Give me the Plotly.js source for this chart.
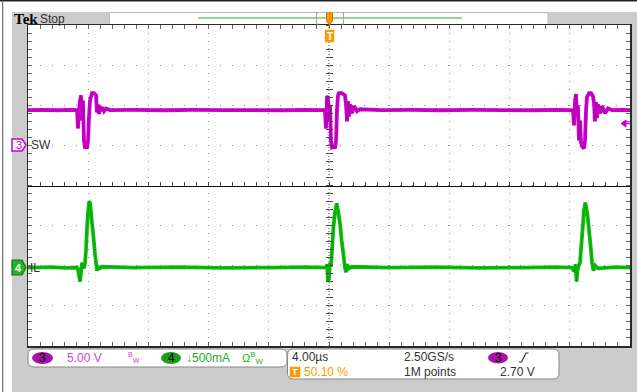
<!DOCTYPE html>
<html><head><meta charset="utf-8">
<script src="https://cdn.plot.ly/plotly-3.0.1.min.js"></script>
<style>html,body{margin:0;padding:0;background:#cccccc;overflow:hidden}#chart{width:637px;height:392px}</style>
</head><body><div id="chart"></div>
<script>
// ---- Data read from the scope capture (time in µs) ----
// Channel 3 : SW node voltage (V)
const swTime = [-20,-19,-18,-17.2,-16.74,-16.68,-16.61,-16.54,-16.48,-16.41,-16.35,-16.28,-16.21,-16.15,-16.08,-16.01,-15.95,-15.88,-15.81,-15.75,-15.61,-15.48,-15.42,-15.35,-15.28,-15.22,-15.15,-15.08,-14.95,-14.82,-14.55,
  -13,-11,-9,-7,-5,-3,-1.5,-0.27,-0.20,-0.13,-0.07,0,0.07,0.13,0.20,0.33,0.40,0.47,0.53,0.60,0.66,0.86,1.06,1.13,1.20,1.26,1.33,1.40,1.53,1.66,1.86,2.06,
  3.5,5.5,7.5,9.5,11.5,13.5,15,16.21,16.28,16.35,16.41,16.48,16.54,16.61,16.68,16.74,16.81,16.94,17.01,17.08,17.14,17.28,17.41,17.54,17.61,17.67,17.74,17.81,17.87,18.01,18.14,18.34,18.54,18.80,19.5,20];
const swVolts = [4.4,4.42,4.38,4.42,4.4,2.1,4.4,5.6,6.25,3.1,5.6,0.6,-0.4,-0.1,-0.4,0.6,3.4,5.6,6.1,6.5,6.5,6.25,4.1,5.1,3.9,4.9,4.25,4.75,4.25,4.6,4.4,
  4.42,4.38,4.42,4.4,4.4,4.38,4.42,4.4,2.1,6.0,6.1,3.1,5.0,0.6,-0.25,-0.1,-0.4,0.6,4.4,6.25,6.5,6.5,6.25,5.1,3.0,5.5,3.6,5.1,4.0,4.9,4.25,4.5,
  4.4,4.42,4.38,4.42,4.4,4.38,4.42,4.4,2.5,5.6,6.4,3.75,5.0,0.6,3.1,0.4,-0.1,-0.4,0.6,4.4,6.0,6.5,6.5,6.1,5.25,3.0,5.4,3.4,5.1,4.0,4.9,4.0,4.6,4.4,4.42,4.4];
// Channel 4 : inductor current IL (A)
const ilTime = [-20,-18.5,-17.5,-16.74,-16.68,-16.54,-16.41,-16.28,-16.21,-16.15,-16.08,-16.01,-15.93,-15.88,-15.81,-15.75,-15.68,-15.61,-15.55,-15.48,-15.42,-15.35,-15.22,-15.08,
  -13,-10,-7,-4,-1.5,-0.20,-0.13,-0.07,0,0.07,0.13,0.20,0.29,0.40,0.51,0.62,0.73,0.84,0.95,1.06,1.13,1.20,1.33,1.53,
  4,7,10,13,15,16.15,16.28,16.38,16.45,16.51,16.58,16.68,16.79,16.86,16.94,17.03,17.16,17.28,17.39,17.48,17.57,17.68,17.87,19,20];
const ilAmps = [0,0.005,-0.005,0,-0.02,-0.175,0.06,-0.01,0.06,0.21,0.49,0.69,0.83,0.80,0.69,0.56,0.44,0.30,0.175,0.06,-0.04,0.01,-0.01,0.01,
  0,0.005,-0.005,0,0.005,0,0.04,-0.175,-0.14,0.06,0.01,0.21,0.49,0.69,0.80,0.69,0.55,0.34,0.175,0,-0.06,0.04,-0.01,0.01,
  0,0.005,-0.005,0,0.005,0,-0.05,0.04,-0.175,-0.04,0.025,0.06,0.34,0.50,0.71,0.81,0.675,0.46,0.25,0.06,-0.04,0.025,-0.01,0.005,0];
// Scope settings (from the readout)
const ch3VoltsPerDiv = 5.0, ch4AmpsPerDiv = 0.5, usPerDiv = 4.0;
const ch3Position = 1.0, ch4Position = -2.045; // divisions
const triggerLevel = 2.70;

const swDiv = swVolts.map(v => v / ch3VoltsPerDiv + ch3Position);
const ilDiv = ilAmps.map(a => a / ch4AmpsPerDiv + ch4Position);

// pixel -> paper helpers for screen chrome
const L = 28, R = 630, T = 25, B = 346;
const X = x => (x - L) / (R - L);
const Y = y => (B - y) / (B - T);
function rect(x0, y0, x1, y1, fill, lc, lw, layer) {
  return {type:'rect', xref:'paper', yref:'paper', x0:X(x0), x1:X(x1), y0:Y(y1), y1:Y(y0),
    fillcolor:fill, line:{color:lc||fill, width:lw||0}, layer:layer||'below'};
}
function path(pts, fill, lc, lw, close) {
  let d = pts.map((p, i) => (i ? 'L' : 'M') + X(p[0]) + ',' + Y(p[1])).join(' ') + (close === false ? '' : ' Z');
  return {type:'path', xref:'paper', yref:'paper', path:d, fillcolor:fill||'rgba(0,0,0,0)', line:{color:lc||fill, width:lw===undefined?1:lw}, layer:'above'};
}
function roundBox(x0, y0, x1, y1, r) {
  const d = `M${X(x0+r)},${Y(y0)} L${X(x1-r)},${Y(y0)} Q${X(x1)},${Y(y0)} ${X(x1)},${Y(y0+r)} L${X(x1)},${Y(y1-r)} Q${X(x1)},${Y(y1)} ${X(x1-r)},${Y(y1)} L${X(x0+r)},${Y(y1)} Q${X(x0)},${Y(y1)} ${X(x0)},${Y(y1-r)} L${X(x0)},${Y(y0+r)} Q${X(x0)},${Y(y0)} ${X(x0+r)},${Y(y0)} Z`;
  return {type:'path', xref:'paper', yref:'paper', path:d, fillcolor:'#ffffff', line:{color:'#888888', width:1}, layer:'above'};
}
function pill(x0, y0, x1, y1, fill) {
  return {type:'circle', xref:'paper', yref:'paper', x0:X(x0), x1:X(x1), y0:Y(y1), y1:Y(y0), fillcolor:fill, line:{width:0}, layer:'above'};
}
const FONT = 'Liberation Sans, Arial, sans-serif';
function txt(x, y, s, color, size, anchor, extra) {
  return Object.assign({xref:'paper', yref:'paper', x:X(x), y:Y(y), text:s, showarrow:false,
    xanchor:anchor||'left', yanchor:'middle', borderpad:0,
    font:{family:FONT, size:size||12, color:color||'#333333'}}, extra||{});
}

const MAG = '#cc00cc', GRN = '#10c010';
const traces = [
  {x: swTime, y: swDiv, type:'scatter', mode:'lines', line:{color:MAG, width:3.8, simplify:false}, hoverinfo:'skip'},
  {x: swTime, y: swDiv, type:'scatter', mode:'lines', line:{color:'#9a009a', width:0.8, simplify:false}, opacity:0.55, hoverinfo:'skip'},
  {x: ilTime, y: ilDiv, type:'scatter', mode:'lines', line:{color:GRN, width:3.8, simplify:false}, hoverinfo:'skip'},
  {x: ilTime, y: ilDiv, type:'scatter', mode:'lines', line:{color:'#007a00', width:0.8, simplify:false}, opacity:0.55, hoverinfo:'skip'}
];

const shapes = [
  // screen chrome
  rect(0, 0, 12, 392, '#ffffff'),
  rect(0, 0, 637, 12, '#ffffff'),
  rect(0, 0, 637, 1.6, '#222222'),
  rect(2, 1.6, 3.3, 392, '#777777'),
  rect(109.5, 12.5, 548, 24.5, '#ffffff', '#b8b8b8', 1),
  path([[198,18],[462,18]], null, '#8fd88f', 2.2, false),
  path([[318.5,13],[316.5,13],[316.5,24],[318.5,24]], null, '#a8a8a8', 1, false),
  path([[341.5,13],[343.5,13],[343.5,24],[341.5,24]], null, '#a8a8a8', 1, false),
  path([[326.5,13],[332.5,13],[332.5,21],[329.5,25],[326.5,21]], '#ff9900', '#d07800', 1),
  // trigger position box
  path([[325,30],[334,30],[334,42],[325,42]], '#ff9900', '#ff9900', 0.5),
  // channel ground markers
  path([[12,139],[22,139],[26,145],[22,151],[12,151]], '#ffffff', MAG, 1.5),
  path([[12,260],[22,260],[26,267.5],[22,275],[12,275]], '#22b522', '#117711', 1.2),
  // trigger level marker (right edge)
  path([[621,123.5],[626,120],[626,127]], MAG, MAG, 1),
  path([[626,123.5],[630,123.5]], null, MAG, 1.5, false),
  // center dotted vertical graticule line
  {type:'line', xref:'x', yref:'y', x0:0, x1:0, y0:-4, y1:4, line:{color:'#444444', width:1, dash:'1px,2px'}, layer:'between'},
  // readout boxes
  roundBox(28, 349, 287, 367, 6),
  roundBox(287.5, 349, 559, 379, 6),
  pill(32, 352, 53, 364, '#a810a6'),
  pill(161, 352, 181, 364, '#1a9e1a'),
  pill(488, 352, 508, 363.5, '#a810a6'),
  path([[290,367],[300,367],[300,377],[290,377]], '#ff9900', '#ff9900', 0.5),
  path([[519,362],[521.5,362],[526,353],[528.5,353]], null, '#333333', 1.2, false)
];

const annotations = [
  txt(12.5, 18.8, '<b>Tek</b>', '#000000', 14, 'left', {font:{family:'Liberation Serif, serif', size:15, color:'#000'}}),
  txt(38.5, 19, 'Stop', '#333333', 12),
  txt(329.5, 36.2, '<b>T</b>', '#ffffff', 10, 'center'),
  txt(18.5, 145.3, '3', MAG, 11, 'center'),
  txt(18.5, 267.8, '<b>4</b>', '#ffffff', 11, 'center'),
  txt(30, 145, 'SW', '#333333', 12),
  txt(29, 267.5, 'IL', '#333333', 12),
  txt(42.5, 358.3, '3', '#000000', 12, 'center'),
  txt(65.5, 358, '5.00 V', '#cc44cc', 12),
  txt(127, 357.5, '<sup>B</sup><sub>W</sub>', '#cc44cc', 10),
  txt(171, 358.3, '4', '#000000', 12, 'center'),
  txt(185, 358, '↓500mA', '#22aa22', 12),
  txt(241, 358, 'Ω<sup>B</sup><sub>W</sub>', '#22aa22', 11),
  txt(291, 357, '4.00µs', '#333333', 12),
  txt(295, 372.3, '<b>T</b>', '#ffffff', 9, 'center'),
  txt(303, 372, '50.10 %', '#ff9900', 12),
  txt(403, 357, '2.50GS/s', '#333333', 12),
  txt(403, 372, '1M points', '#333333', 12),
  txt(498, 357.8, '3', '#000000', 12, 'center'),
  txt(499, 372, '2.70 V', '#333333', 12)
];

const tickC = '#666666';
const layout = {
  width: 637, height: 392,
  margin: {l: L, r: 637 - R, t: T, b: 392 - B, pad: 0},
  paper_bgcolor: '#cccccc', plot_bgcolor: '#ffffff',
  showlegend: false,
  xaxis: {range: [-5 * usPerDiv, 5 * usPerDiv], dtick: usPerDiv, tick0: 0, showgrid: true, gridcolor: '#8a8a8a', gridwidth: 1, griddash: '1px,7px',
    ticks: 'inside', ticklen: 4, tickcolor: tickC, tickwidth: 1,
    minor: {dtick: usPerDiv / 5, tick0: 0, ticks: 'inside', ticklen: 4, tickcolor: tickC, tickwidth: 1, showgrid: false},
    showline: true, linecolor: '#2a2a2a', linewidth: 1.5, mirror: 'ticks', zeroline: false, showticklabels: false, fixedrange: true},
  yaxis: {range: [-4, 4], dtick: 1, tick0: 0, showgrid: true, gridcolor: '#8a8a8a', gridwidth: 1, griddash: '1px,11px',
    ticks: 'inside', ticklen: 4, tickcolor: tickC, tickwidth: 1,
    minor: {dtick: 0.2, tick0: 0, ticks: 'inside', ticklen: 4, tickcolor: tickC, tickwidth: 1, showgrid: false},
    showline: true, linecolor: '#2a2a2a', linewidth: 1.5, mirror: 'ticks', zeroline: false, showticklabels: false, fixedrange: true},
  xaxis2: {overlaying: 'x', anchor: 'free', position: 0.5, side: 'bottom', range: [-5 * usPerDiv, 5 * usPerDiv],
    showline: true, linecolor: '#111111', linewidth: 1.5, ticks: 'inside', dtick: usPerDiv / 5, tick0: 0, ticklen: 4, tickcolor: '#444',
    showgrid: false, zeroline: false, showticklabels: false, layer: 'below traces', fixedrange: true},
  yaxis2: {overlaying: 'y', anchor: 'free', position: 0.5, side: 'left', range: [-4, 4], showline: false,
    ticks: 'outside', dtick: 0.2, tick0: 0, ticklen: 3, tickcolor: '#444', showgrid: false, zeroline: false, showticklabels: false, fixedrange: true},
  yaxis3: {overlaying: 'y', anchor: 'free', position: 0.5, side: 'left', range: [-4, 4], showline: false,
    ticks: 'inside', dtick: 0.2, tick0: 0, ticklen: 3, tickcolor: '#444', showgrid: false, zeroline: false, showticklabels: false, fixedrange: true},
  shapes: shapes,
  annotations: annotations
};
// invisible anchor traces so the overlay graticule axes are drawn
traces.unshift({x: [0], y: [0], xaxis: 'x2', yaxis: 'y', mode: 'markers', marker: {opacity: 0}, hoverinfo: 'skip'});
traces.unshift({x: [0], y: [0], xaxis: 'x', yaxis: 'y2', mode: 'markers', marker: {opacity: 0}, hoverinfo: 'skip'});
traces.unshift({x: [0], y: [0], xaxis: 'x', yaxis: 'y3', mode: 'markers', marker: {opacity: 0}, hoverinfo: 'skip'});
Plotly.newPlot('chart', traces, layout, {staticPlot: true, displayModeBar: false});
</script></body></html>
